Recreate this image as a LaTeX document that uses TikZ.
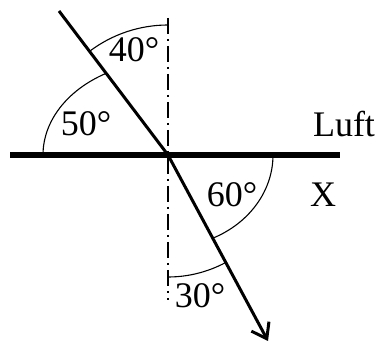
\documentclass[tikz,border=0pt]{standalone}
\usepackage{fontspec}
\setmainfont{Liberation Serif}
\usepackage{tikz}
\usetikzlibrary{arrows.meta,positioning}
\tikzset{
    surface/.style={draw,line width=2.6pt},
    ray/.style={draw,line width=1.5pt},
    normalline/.style={draw,line width=0.6pt,dash pattern=on 8pt off 2.5pt on 1pt off 2.5pt},
    anglearc/.style={draw,line width=0.55pt},
    lbl/.style={inner sep=0pt,font=\fontsize{18}{20}\selectfont},
    arr/.style={-{Straight Barb[length=7pt,width=10pt]}}
}
\begin{document}
\begin{tikzpicture}[x=0.5pt,y=0.5pt]
    \useasboundingbox (0,0) rectangle (381,342);
    \coordinate (O) at (168,187);
    \coordinate (west) at (10,187);
    \coordinate (east) at (340,187);
    \coordinate (top) at (168,324);
    \coordinate (bottom) at (168,42);
    \coordinate (src) at (59,331);
    \coordinate (tip) at (268,1);

    \path[normalline] (top) -- (bottom);
    \path[surface] (west) -- (east);
    \path[ray] (src) -- (O);
    \path[ray,arr] (O) -- (tip);

    \path[anglearc] ([yshift=130*0.5pt]O) arc[start angle=90,end angle=127,radius=130*0.5pt];
    \path[anglearc] ([xshift=-125*0.5pt]O) arc[start angle=180,end angle=120,x radius=125*0.5pt,y radius=94*0.5pt];
    \path[anglearc] ([xshift=105*0.5pt]O) arc[start angle=0,end angle=-65,x radius=105*0.5pt,y radius=92*0.5pt];
    \path[anglearc] ([yshift=-122*0.5pt]O) arc[start angle=270,end angle=298,radius=122*0.5pt];

    \node[lbl] (a40) at (134,292) {40°};
    \node[lbl] (a50) at (86,218) {50°};
    \node[lbl] (a60) at (232,147) {60°};
    \node[lbl] (a30) at (200,46) {30°};
    \node[lbl] (luft) at (344,218) {Luft};
    \node[lbl] (medx) at (323,147) {X};
\end{tikzpicture}
\end{document}
